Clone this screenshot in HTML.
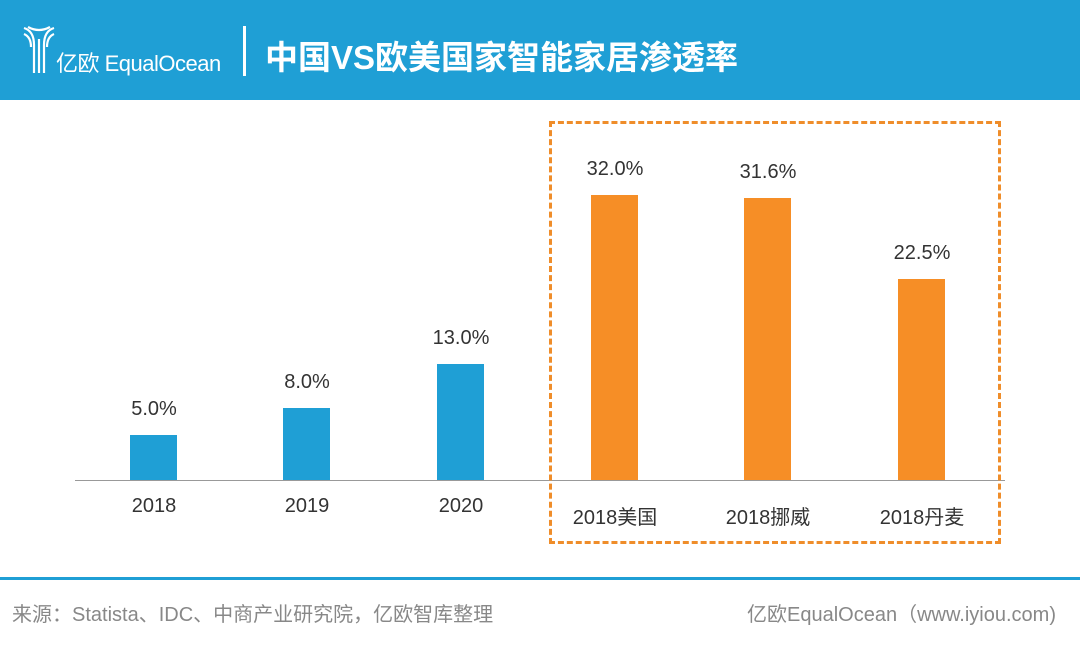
<!DOCTYPE html>
<html><head><meta charset="utf-8"><style>
body{margin:0;width:1080px;height:646px;background:#fff;position:relative;overflow:hidden;font-family:"Liberation Sans","Noto Sans CJK SC",sans-serif;}
.hdr{position:absolute;left:0;top:0;width:1080px;height:100px;background:#1f9fd5;}
.t{position:absolute;white-space:nowrap;}
.bar{position:absolute;width:47px;}
.lbl{position:absolute;width:120px;text-align:center;font-size:20px;color:#333;}
</style></head><body>
<div class="hdr">
<svg style="position:absolute;left:22px;top:25px" width="34" height="50" viewBox="0 0 34 50" fill="none" stroke="#fff" stroke-width="2.2">
<path d="M2 3 Q12 6 12 20 V48"/><path d="M2 9 Q9 12 9 22"/><path d="M32 3 Q22 6 22 20 V48"/><path d="M32 9 Q25 12 25 22"/><path d="M17 14 V48"/><path d="M6 2 Q17 8 28 2"/></svg>
<div class="t" style="left:56px;top:46px;font-size:22px;color:#fff;letter-spacing:-0.5px">亿欧 EqualOcean</div>
<div style="position:absolute;left:243px;top:26px;width:3px;height:50px;background:#fff"></div>
<div class="t" style="left:265px;top:31px;font-size:33px;color:#fff;font-weight:bold">中国VS欧美国家智能家居渗透率</div>
</div>
<div style="position:absolute;left:75px;top:480px;width:930px;height:1px;background:#999"></div>
<div style="position:absolute;left:549px;top:121px;width:446px;height:417px;border:3px dashed #ef8d2a"></div>
<div class="bar" style="left:130px;top:435px;height:45px;background:#1f9fd5"></div>
<div class="bar" style="left:283px;top:408px;height:72px;background:#1f9fd5"></div>
<div class="bar" style="left:437px;top:364px;height:116px;background:#1f9fd5"></div>
<div class="bar" style="left:591px;top:195px;height:285px;background:#f68e26"></div>
<div class="bar" style="left:744px;top:198px;height:282px;background:#f68e26"></div>
<div class="bar" style="left:898px;top:279px;height:201px;background:#f68e26"></div>
<div class="lbl" style="left:94px;top:398px">5.0%</div>
<div class="lbl" style="left:247px;top:371px">8.0%</div>
<div class="lbl" style="left:401px;top:327px">13.0%</div>
<div class="lbl" style="left:555px;top:158px">32.0%</div>
<div class="lbl" style="left:708px;top:161px">31.6%</div>
<div class="lbl" style="left:862px;top:242px">22.5%</div>
<div class="lbl" style="left:94px;top:495px">2018</div>
<div class="lbl" style="left:247px;top:495px">2019</div>
<div class="lbl" style="left:401px;top:495px">2020</div>
<div class="lbl" style="left:555px;top:501px">2018美国</div>
<div class="lbl" style="left:708px;top:501px">2018挪威</div>
<div class="lbl" style="left:862px;top:501px">2018丹麦</div>
<div style="position:absolute;left:0;top:577px;width:1080px;height:3px;background:#1f9fd5"></div>
<div class="t" style="left:12px;top:598px;font-size:20px;color:#888">来源：Statista、IDC、中商产业研究院，亿欧智库整理</div>
<div class="t" style="right:24px;top:598px;font-size:20px;color:#888">亿欧EqualOcean（www.iyiou.com)</div>
</body></html>
